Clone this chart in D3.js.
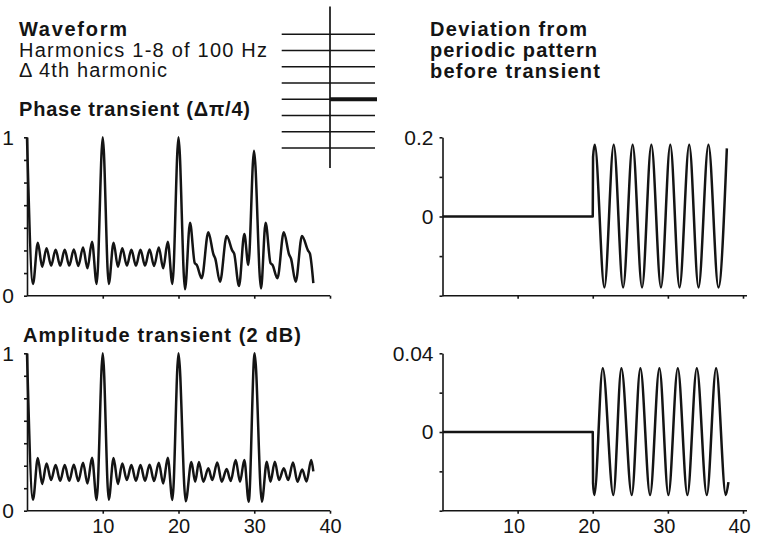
<!DOCTYPE html>
<html>
<head>
<meta charset="utf-8">
<script src="https://cdn.jsdelivr.net/npm/d3@7"></script>
<style>
  body { margin: 0; background: #fff; }
  svg { display: block; background: #fff; }
</style>
</head>
<body>
<svg id="chart" width="757" height="542"></svg>
<script>
// ---- data -------------------------------------------------------------
// time in ms, waveform normalised so the main pulse is 1
const timeTicks = [10, 20, 30, 40];
const waveTicks = [0, 1 / 7, 2 / 7, 3 / 7, 4 / 7, 5 / 7, 6 / 7, 1];
const waveTickLabels = [0, 1];
const phaseDevTicks = [-0.2, -0.1, 0, 0.1, 0.2];
const phaseDevTickLabels = [0, 0.2];
const ampDevTicks = [-0.04, -0.02, 0, 0.02, 0.04];
const ampDevTickLabels = [0, 0.04];
const harmonics = [1, 2, 3, 4, 5, 6, 7, 8];
const changedHarmonic = 4;

// waveform with a π/4 phase step of the 4th harmonic at 20 ms
const phaseWave = [
  [0, 1.0], [0.79, 0.074], [1.43, 0.335], [2.0, 0.183], [2.58, 0.30], [3.18, 0.19], [3.78, 0.29],
  [4.38, 0.19], [4.98, 0.29], [5.58, 0.19], [6.18, 0.292], [6.78, 0.188], [7.4, 0.305], [7.98, 0.173],
  [8.58, 0.34], [9.2, 0.074],
  [10, 1.0], [10.79, 0.074], [11.43, 0.335], [12.0, 0.183], [12.58, 0.30], [13.18, 0.19], [13.78, 0.29],
  [14.38, 0.19], [14.98, 0.29], [15.58, 0.19], [16.18, 0.292], [16.78, 0.188], [17.4, 0.305], [17.98, 0.173],
  [18.58, 0.34], [19.2, 0.074],
  [20, 1.0], [20.86, 0.04], [21.52, 0.46], [22.15, 0.205], [22.4, 0.195], [23.06, 0.11], [23.94, 0.40],
  [24.62, 0.26], [24.85, 0.235], [25.48, 0.088], [26.36, 0.377], [27.1, 0.285], [27.35, 0.265],
  [27.99, 0.061], [28.69, 0.39], [29.22, 0.194],
  [29.97, 0.915], [30.89, 0.045], [31.5, 0.46], [32.15, 0.205], [32.4, 0.195], [33.06, 0.11], [33.9, 0.40],
  [34.6, 0.26], [34.85, 0.235], [35.47, 0.088], [36.3, 0.377], [37.1, 0.285], [37.35, 0.265], [37.8, 0.08]
];

// waveform with a 2 dB amplitude step of the 4th harmonic at 20 ms
const amplitudeWave = [
  [0, 1.0], [0.79, 0.07], [1.43, 0.335], [2.0, 0.17], [2.58, 0.30], [3.18, 0.195], [3.78, 0.29],
  [4.38, 0.19], [4.98, 0.29], [5.58, 0.19], [6.18, 0.292], [6.78, 0.188], [7.4, 0.305], [7.98, 0.173],
  [8.58, 0.337], [9.2, 0.068],
  [10, 1.0], [10.79, 0.07], [11.43, 0.335], [12.0, 0.17], [12.58, 0.30], [13.18, 0.195], [13.78, 0.29],
  [14.38, 0.19], [14.98, 0.29], [15.58, 0.19], [16.18, 0.292], [16.78, 0.188], [17.4, 0.305], [17.98, 0.173],
  [18.58, 0.337], [19.2, 0.068],
  [20, 1.0], [20.95, 0.06], [21.7, 0.31], [22.2, 0.184], [22.7, 0.31], [23.28, 0.184], [23.94, 0.269],
  [24.46, 0.195], [25.12, 0.307], [25.7, 0.184], [26.36, 0.265], [26.89, 0.189], [27.55, 0.322],
  [28.12, 0.184], [28.69, 0.322], [29.27, 0.057],
  [30.05, 1.0], [31.0, 0.057], [31.66, 0.311], [32.14, 0.184], [32.72, 0.311], [33.27, 0.195], [33.9, 0.269],
  [34.48, 0.195], [35.12, 0.307], [35.7, 0.184], [36.33, 0.262], [36.9, 0.186], [37.52, 0.322], [37.8, 0.25]
];

// deviation from the periodic pattern, phase step
const phaseDeviation = [
  [0, 0], [20, 0], [20.04, 0.15], [20.27, 0.181], [21.55, -0.179], [22.79, 0.181], [24.04, -0.179],
  [25.31, 0.181], [26.56, -0.179], [27.8, 0.181], [29.08, -0.179], [30.32, 0.181], [31.55, -0.179],
  [32.84, 0.181], [34.08, -0.179], [35.4, 0.181], [36.73, -0.179], [37.85, 0.172]
];

// deviation from the periodic pattern, amplitude step
const amplitudeDeviation = [
  [0, 0], [20, 0], [20.04, -0.026], [20.21, -0.032], [21.33, 0.0324], [22.74, -0.032], [23.81, 0.0324],
  [25.19, -0.032], [26.34, 0.0324], [27.63, -0.032], [28.87, 0.0324], [30.07, -0.032], [31.32, 0.0324],
  [32.6, -0.032], [33.85, 0.0324], [35.18, -0.032], [36.42, 0.0324], [37.71, -0.032], [38.06, -0.0255]
];

// ---- drawing ----------------------------------------------------------
const FONT = '"Liberation Sans", Arial, Helvetica, sans-serif';
const INK = "#141414";
const svg = d3.select("#chart");

const xLeft = d3.scaleLinear([0, 40], [27, 330]);
const xRight = d3.scaleLinear([0, 40], [442.5, 743]);

const panels = [
  { data: phaseWave, x: xLeft, y: d3.scaleLinear([0, 1], [295.7, 137.3]),
    ticks: waveTicks, labels: waveTickLabels, xLabels: false, extend: 0, labelPad: 10 },
  { data: amplitudeWave, x: xLeft, y: d3.scaleLinear([0, 1], [510.7, 353.3]),
    ticks: waveTicks, labels: waveTickLabels, xLabels: true, extend: 0, labelPad: 10 },
  { data: phaseDeviation, x: xRight, y: d3.scaleLinear([-0.2, 0.2], [295.7, 137.3]),
    ticks: phaseDevTicks, labels: phaseDevTickLabels, xLabels: false, extend: 4, labelPad: 6 },
  { data: amplitudeDeviation, x: xRight, y: d3.scaleLinear([-0.04, 0.04], [510.7, 353.3]),
    ticks: ampDevTicks, labels: ampDevTickLabels, xLabels: true, extend: 4, labelPad: 6 }
];

const near = (a, b) => Math.abs(a - b) < 1e-9;

panels.forEach(p => {
  const g = svg.append("g");
  const [x0, x1] = p.x.range();
  const yBase = p.y.range()[0];

  // y axis
  const ya = g.append("g")
    .attr("transform", `translate(${x0},0)`)
    .call(d3.axisLeft(p.y)
      .tickValues(p.ticks)
      .tickSize(3)
      .tickSizeOuter(0)
      .tickPadding(p.labelPad)
      .tickFormat(v => p.labels.some(l => near(l, v)) ? d3.format("")(+v.toFixed(3)) : ""));
  ya.attr("font-family", null).attr("font-size", null);
  ya.selectAll("text").attr("font-family", FONT).attr("font-size", 21).attr("fill", INK);

  // x axis
  const xa = g.append("g")
    .attr("transform", `translate(0,${yBase})`)
    .call(d3.axisBottom(p.x)
      .tickValues(timeTicks)
      .tickSize(3)
      .tickSizeOuter(0)
      .tickPadding(5)
      .tickFormat(v => p.xLabels ? v : ""));
  xa.attr("font-family", null).attr("font-size", null);
  xa.select(".domain").attr("d", `M${x0},0H${x1 + p.extend}`);
  xa.selectAll("text").attr("font-family", FONT).attr("font-size", 20).attr("fill", INK)
    .attr("dx", p.extend ? -4 : 0);

  g.selectAll(".domain, .tick line").attr("stroke", INK).attr("stroke-width", 1.6);

  // waveform trace
  const line = d3.line()
    .x(d => p.x(d[0]))
    .y(d => p.y(d[1]))
    .curve(d3.curveMonotoneX);
  g.append("path")
    .datum(p.data)
    .attr("d", line)
    .attr("fill", "none")
    .attr("stroke", INK)
    .attr("stroke-width", 2.5)
    .attr("stroke-linejoin", "round");
});

// harmonic schematic: one line per harmonic, time runs left to right
const hy = d3.scalePoint(harmonics, [148, 34.3]);
const icon = svg.append("g").attr("stroke", INK);
icon.append("line").attr("x1", 330).attr("x2", 330).attr("y1", 6.5).attr("y2", 168).attr("stroke-width", 1.7);
icon.selectAll(".harm").data(harmonics).join("line")
  .attr("class", "harm")
  .attr("x1", 281.7).attr("x2", 375)
  .attr("y1", d => hy(d)).attr("y2", d => hy(d))
  .attr("stroke-width", 1.6);
icon.append("line")
  .attr("x1", 330).attr("x2", 377)
  .attr("y1", hy(changedHarmonic)).attr("y2", hy(changedHarmonic))
  .attr("stroke-width", 4);

// titles
const titles = [
  { text: "Waveform", x: 19, y: 36, bold: true, w: 108 },
  { text: "Harmonics 1-8 of 100 Hz", x: 19, y: 56.5, bold: false, w: 248 },
  { text: "Δ 4th harmonic", x: 19, y: 77, bold: false, w: 148 },
  { text: "Phase transient (Δπ/4)", x: 19, y: 116, bold: true, w: 231 },
  { text: "Amplitude transient (2 dB)", x: 23, y: 342, bold: true, w: 278 },
  { text: "Deviation from", x: 430, y: 36, bold: true, w: 157 },
  { text: "periodic pattern", x: 430, y: 57, bold: true, w: 167 },
  { text: "before transient", x: 430, y: 78, bold: true, w: 170 }
];
svg.append("g").selectAll("text").data(titles).join("text")
  .attr("x", d => d.x).attr("y", d => d.y)
  .attr("font-family", FONT)
  .attr("font-size", 20)
  .attr("font-weight", d => d.bold ? "bold" : "normal")
  .attr("fill", INK)
  .attr("textLength", d => d.w)
  .attr("lengthAdjust", "spacing")
  .text(d => d.text);
</script>
</body>
</html>
